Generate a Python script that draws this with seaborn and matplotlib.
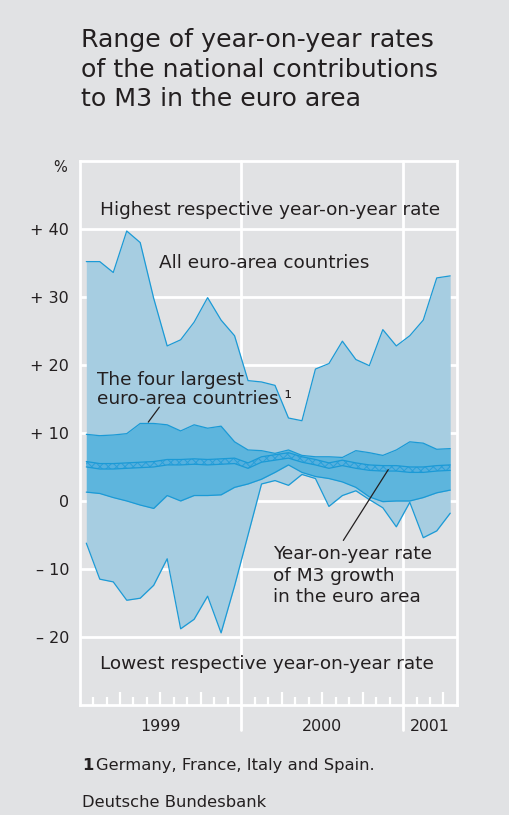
import numpy as np
import pandas as pd
import matplotlib
matplotlib.use("Agg")
import matplotlib.pyplot as plt
import seaborn as sns

# ---------------- data ----------------
months = pd.period_range("1999-01", "2001-04", freq="M").strftime("%Y-%m").tolist()
all_max = [35.2, 35.2, 33.6, 39.7, 38.0, 29.8, 22.8, 23.7, 26.3, 29.9, 26.6, 24.3, 17.7, 17.5,
           17.0, 12.2, 11.8, 19.4, 20.2, 23.5, 20.8, 19.9, 25.2, 22.8, 24.3, 26.6, 32.8, 33.1]
all_min = [-6.2, -11.5, -11.9, -14.6, -14.3, -12.4, -8.5, -18.8, -17.4, -14.0, -19.4, -12.5, -5.0, 2.5,
           3.0, 2.3, 3.9, 3.3, -0.8, 0.8, 1.5, 0.2, -1.0, -3.8, -0.2, -5.4, -4.4, -1.8]
big4_max = [9.8, 9.6, 9.7, 9.9, 11.4, 11.4, 11.2, 10.3, 11.2, 10.7, 11.0, 8.7, 7.5, 7.4,
            7.0, 7.5, 6.7, 6.5, 6.5, 6.4, 7.4, 7.1, 6.7, 7.5, 8.7, 8.5, 7.6, 7.7]
big4_min = [1.3, 1.1, 0.5, 0.0, -0.6, -1.1, 0.8, 0.0, 0.8, 0.8, 0.9, 2.0, 2.5, 3.2,
            4.2, 5.3, 4.2, 3.6, 3.3, 2.8, 2.0, 0.6, -0.1, 0.0, 0.0, 0.5, 1.2, 1.6]
m3_growth = [5.4, 5.1, 5.1, 5.2, 5.3, 5.4, 5.7, 5.7, 5.8, 5.7, 5.8, 5.9, 5.2, 6.1,
             6.4, 6.7, 6.1, 5.7, 5.2, 5.6, 5.2, 4.9, 4.8, 4.8, 4.6, 4.6, 4.8, 4.9]
ytick_values = [-20, -10, 0, 10, 20, 30, 40]
ytick_labels = ["\u2013 20", "\u2013 10", "0", "+ 10", "+ 20", "+ 30", "+ 40"]
year_labels = ["1999", "2000", "2001"]

df = pd.DataFrame({"month": months, "all_max": all_max, "all_min": all_min,
                   "big4_max": big4_max, "big4_min": big4_min, "m3": m3_growth})
df["x"] = np.arange(len(df)) + 0.5   # mid-month position (months since Jan 1999)

# ---------------- style ----------------
BG = "#e1e2e4"
LIGHT = "#a6cde1"
DARK = "#5db5dd"
LINE = "#1b9ad6"
TXT = "#231f20"
FONT = ["DejaVu Sans"]

sns.set_style("white")
plt.rcParams["font.family"] = FONT
plt.rcParams["hatch.linewidth"] = 0.7

fig = plt.figure(figsize=(5.10, 8.15), dpi=100, facecolor=BG)
ax = fig.add_axes([0.156, 0.135, 0.740, 0.6675], facecolor=BG)
renderer = fig.canvas.get_renderer()


def fit(t, target_px):
    """Scale a text's font size so its rendered width matches target_px."""
    w = t.get_window_extent(renderer=renderer).width
    t.set_fontsize(t.get_fontsize() * target_px / w)
    return t


ax.set_xlim(0, 28)
ax.set_ylim(-30, 50)

# grid (behind)
ax.set_axisbelow(True)
for v in ytick_values:
    ax.axhline(v, color="white", lw=2.0, zorder=0)
for xv in (12, 24):
    ax.axvline(xv, ymin=-0.046, ymax=1, color="white", lw=2.0, zorder=0, clip_on=False)

# fills
ax.fill_between(df["x"], df["all_min"], df["all_max"], color=LIGHT, lw=0, zorder=1)
ax.fill_between(df["x"], df["big4_min"], df["big4_max"], color=DARK, lw=0, zorder=2)

for col in ["all_max", "all_min", "big4_max", "big4_min"]:
    sns.lineplot(data=df, x="x", y=col, ax=ax, color=LINE, lw=0.9, zorder=3)

# M3 growth as hatched narrow band
ax.fill_between(df["x"], df["m3"] - 0.4, df["m3"] + 0.4, facecolor="#55b0de",
                edgecolor="#2a9fd9", hatch="xxxx", lw=0.0, zorder=4)
sns.lineplot(x=df["x"], y=df["m3"] + 0.4, ax=ax, color=LINE, lw=0.9, zorder=5)
sns.lineplot(x=df["x"], y=df["m3"] - 0.4, ax=ax, color=LINE, lw=0.9, zorder=5)

# frame
for s in ax.spines.values():
    s.set_color("white")
    s.set_linewidth(2.0)
    s.set_zorder(6)

# ticks
ax.set_yticks(ytick_values)
ax.set_yticklabels(ytick_labels, fontsize=11.5, color=TXT)
ax.tick_params(axis="y", left=False, length=0, pad=7.5)
ax.set_xticks([m for m in range(1, 28) if m % 3 == 0 and m not in (12, 24)])
ax.set_xticks([m for m in range(1, 28) if m % 3 != 0], minor=True)
ax.tick_params(axis="x", which="major", bottom=True, direction="in", length=9.5, width=1.6,
               color="white", labelbottom=False)
ax.tick_params(axis="x", which="minor", bottom=True, direction="in", length=5.5, width=1.6,
               color="white", labelbottom=False)
ax.set_xlabel("")
ax.set_ylabel("")

# year labels
for lab, xc in zip(year_labels, [6, 18, 26]):
    t = ax.text(xc, -32.0, lab, ha="center", va="top", fontsize=12, color=TXT, clip_on=False)
    fit(t, 40)

# % label
fig.text(67 / 510, 1 - 168 / 815, "%", ha="right", va="center", fontsize=10.5, color=TXT)

# annotations
ANN = 12
t = ax.text(14.1, 42.1, "Highest respective year-on-year rate", ha="center", va="baseline",
            fontsize=ANN, color=TXT)
ann_size = fit(t, 339).get_fontsize()
ax.text(13.9, -24.7, "Lowest respective year-on-year rate", ha="center", va="baseline",
        fontsize=ann_size, color=TXT)
ax.text(5.92, 34.3, "All euro-area countries", ha="left", va="baseline",
        fontsize=ann_size, color=TXT)
ax.text(1.32, 17.1, "The four largest", ha="left", va="baseline", fontsize=ann_size, color=TXT)
ax.text(1.32, 14.3, "euro-area countries \u00b9", ha="left", va="baseline",
        fontsize=ann_size, color=TXT)
ax.plot([5.92, 5.10], [13.8, 11.6], color=TXT, lw=0.9, zorder=7)
ax.text(14.38, -8.6, "Year-on-year rate", ha="left", va="baseline", fontsize=ann_size, color=TXT)
ax.text(14.38, -11.8, "of M3 growth", ha="left", va="baseline", fontsize=ann_size, color=TXT)
ax.text(14.38, -14.8, "in the euro area", ha="left", va="baseline", fontsize=ann_size, color=TXT)
ax.plot([19.57, 22.9], [-5.8, 4.6], color=TXT, lw=0.9, zorder=7)

# title
title_lines = ["Range of year-on-year rates", "of the national contributions", "to M3 in the euro area"]
tts = []
for line, yb in zip(title_lines, [46.7, 76.7, 105.5]):
    tts.append(fig.text(80.7 / 510, 1 - yb / 815, line, ha="left", va="baseline",
                        fontsize=17, color=TXT))
tsize = fit(tts[1], 360).get_fontsize()
for tt in tts:
    tt.set_fontsize(tsize)

# footnote and source
fn = fig.text(81.7 / 510, 1 - 806.7 / 815, "Deutsche Bundesbank", ha="left", va="baseline",
              fontsize=11.5, color=TXT)
fsize = fit(fn, 186).get_fontsize()
one = fig.text(81.7 / 510, 1 - 770 / 815, "1", ha="left", va="baseline", fontsize=fsize,
               fontweight="bold", color=TXT)
fig.text(96 / 510, 1 - 770 / 815, "Germany, France, Italy and Spain.", ha="left",
         va="baseline", fontsize=fsize, color=TXT)

fig.savefig("out.png", dpi=100, facecolor=BG)
